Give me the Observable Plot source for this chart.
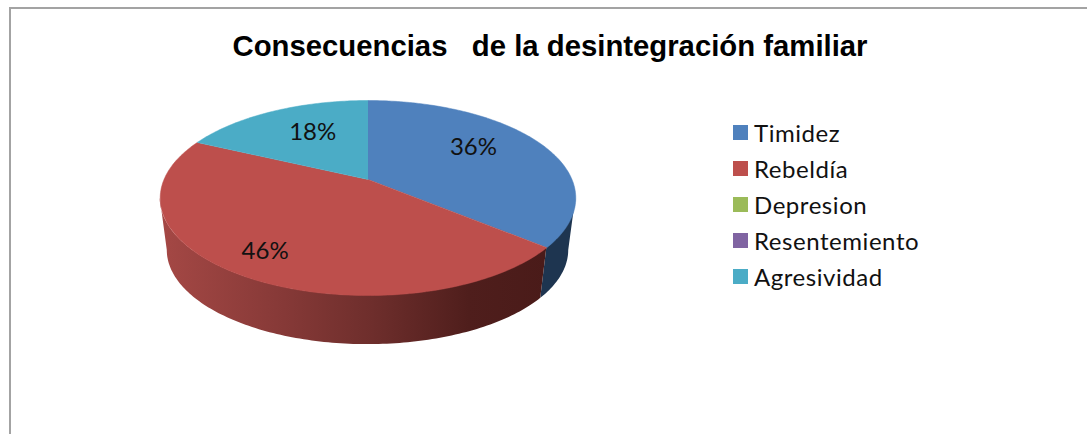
<!DOCTYPE html>
<html lang="es">
<head>
<meta charset="utf-8">
<script src="https://cdn.jsdelivr.net/npm/d3@7"></script>
<script src="https://cdn.jsdelivr.net/npm/@observablehq/plot@0.6"></script>
<style>
  html, body { margin: 0; padding: 0; background: #fff; }
  #chart { position: relative; width: 1087px; height: 434px; overflow: hidden; }
  #chart svg { display: block; position: absolute; left: 0; top: 0; background: transparent; }
  #border { position: absolute; left: 9px; top: 7px; right: 0; bottom: 0; border-top: 2px solid #a3a3a3; border-left: 2px solid #a3a3a3; }
  #title { position: absolute; left: 0; width: 1100px; top: 29px; text-align: center; white-space: pre;
           font: bold 29.3px "Liberation Sans", Arial, sans-serif; color: #000; line-height: 34px; }
  #legend { position: absolute; left: 733px; top: 114px; font: 24px Lato, sans-serif; letter-spacing: 0.55px; color: #111; }
  .row { display: flex; align-items: center; height: 36.2px; white-space: nowrap; }
  .sw { width: 15px; height: 15px; margin-right: 6px; flex: none; }
</style>
</head>
<body>
<div id="chart">
  <div id="border"></div>
  <div id="title">Consecuencias   de la desintegración familiar</div>
  <div id="legend"></div>
</div>
<script>
const categories = ["Timidez", "Rebeldía", "Depresion", "Resentemiento", "Agresividad"];
const percents = [36, 46, 0, 0, 18];
const colors = ["#4f81bd", "#bd4f4c", "#9bbb59", "#8064a2", "#4bacc6"];

// Perspective tilt of the disc and the shrink / drop of its lower rim
const tilt = 0.19, lowerScale = 0.966, lowerDrop = 0.564;
const rad = d => d * Math.PI / 180;

// Project an angle (clockwise from the top) and radius on to the tilted disc
function project(deg, r = 1) {
  const X = r * Math.sin(rad(deg)), Y = r * Math.cos(rad(deg)), w = 1 + tilt * Y;
  return {x: X / w, y: Y / w};
}

// Slice angles come straight from the values
let acc = 0;
const slices = categories.map((category, i) => {
  const start = acc / 100 * 360;
  acc += percents[i];
  return {category, value: percents[i], start, end: acc / 100 * 360};
}).filter(d => d.value > 0);

const topFaces = slices.flatMap(s => {
  const n = Math.ceil(s.end - s.start);
  const arc = d3.range(n + 1).map(i => ({category: s.category, ...project(s.start + (s.end - s.start) * i / n)}));
  return [{category: s.category, x: 0, y: 0}, ...arc];
});

// Visible side wall: between the two silhouette angles of the disc
const silhouette = Math.acos(-tilt) * 180 / Math.PI;
function wall(from, to) {
  const n = Math.ceil(to - from);
  return d3.range(n + 1).map(i => {
    const p = project(from + (to - from) * i / n);
    return {x1: p.x, y1: p.y, x2: p.x * lowerScale, y2: p.y * lowerScale - lowerDrop};
  });
}
const blueEnd = slices[0].end;
const wallBlue = wall(silhouette, blueEnd);
const wallRed = wall(blueEnd, 360 - silhouette);

// Label placement inside each slice
const labelRadius = [0.66, 0.80, 0.63];
const labelShift = [-8, 1, 4];
const labels = slices.map((s, i) => ({
  text: s.value + "%",
  ...project((s.start + s.end) / 2 + labelShift[i], labelRadius[i])
}));

function gradient() {
  const defs = d3.create("svg:defs");
  const g = defs.append("linearGradient").attr("id", "wallRed");
  [[0, "#a54845"], [0.3, "#883a38"], [0.55, "#6e2e2c"], [0.8, "#4f1e1c"], [1, "#4a1b19"]]
    .forEach(([o, c]) => g.append("stop").attr("offset", o).attr("stop-color", c));
  return defs.node();
}

const pxX = 204, pxY = 94, cx = 367.5, cy = 179;
const plot = Plot.plot({
  width: 1087, height: 434, margin: 0,
  x: {domain: [-cx / pxX, (1087 - cx) / pxX], range: [0, 1087], axis: null},
  y: {domain: [cy / pxY, (cy - 434) / pxY], range: [0, 434], axis: null},
  color: {domain: categories, range: colors},
  marks: [
    gradient,
    Plot.area(wallBlue, {x1: "x1", y1: "y1", x2: "x2", y2: "y2", fill: "#1e3550"}),
    Plot.area(wallRed, {x1: "x1", y1: "y1", x2: "x2", y2: "y2", fill: "url(#wallRed)"}),
    Plot.line(topFaces, {x: "x", y: "y", z: "category", fill: "category", stroke: "category", strokeWidth: 0.5}),
    Plot.text(labels, {x: "x", y: "y", text: "text", fontFamily: "Lato, sans-serif", fontSize: 24, letterSpacing: 0.5, style: {letterSpacing: "0.5px"}, fill: "#111"})
  ]
});
document.getElementById("chart").appendChild(plot);

const legend = d3.select("#legend");
categories.forEach((c, i) => {
  const row = legend.append("div").attr("class", "row");
  row.append("span").attr("class", "sw").style("background", colors[i]);
  row.append("span").text(c);
});
</script>
</body>
</html>
